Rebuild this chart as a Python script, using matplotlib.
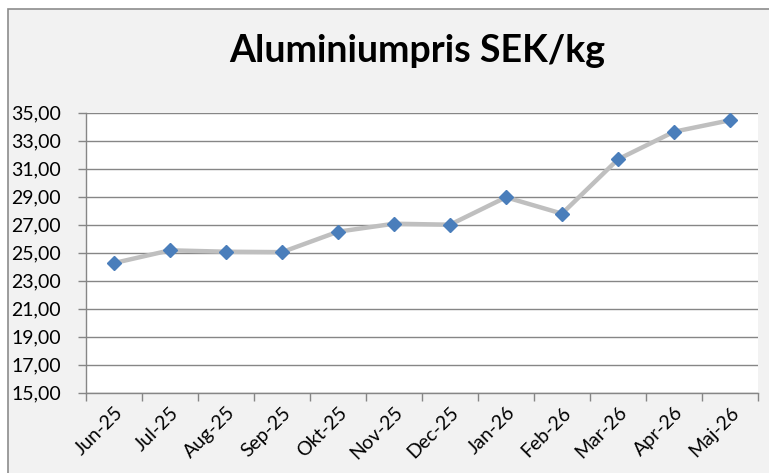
import matplotlib.pyplot as plt
from matplotlib.patches import Rectangle

months = ["Jun-25", "Jul-25", "Aug-25", "Sep-25", "Okt-25", "Nov-25",
          "Dec-25", "Jan-26", "Feb-26", "Mar-26", "Apr-26", "Maj-26"]
price = [24.26, 25.17, 25.07, 25.04, 26.50, 27.07,
         27.00, 28.96, 27.79, 31.67, 33.64, 34.46]
yticks = [15, 17, 19, 21, 23, 25, 27, 29, 31, 33, 35]

W, H = 769, 473
plt.rcParams["font.family"] = ["Lato", "DejaVu Sans"]

fig = plt.figure(figsize=(W / 100, H / 100), dpi=100)
fig.patch.set_facecolor("white")

# grey chart area with thin frame (cropped on right/bottom)
fig.patches.append(Rectangle((8 / W, -0.1), 1.2, 1.1 - 9 / H,
                             transform=fig.transFigure, facecolor="#F2F2F2",
                             edgecolor="#8C8C8C", linewidth=1.2, zorder=-5))

ax = fig.add_axes([86 / W, 1 - 392.7 / H, (758 - 86) / W, 280 / H])
ax.set_facecolor("white")

x = range(len(months))
ax.plot(x, price, color="#BFBFBF", linewidth=3.2, zorder=3)
ax.plot(x, price, linestyle="none", marker="D", markersize=7.5,
        color="#4A7EBB", zorder=4)

ax.set_xlim(-0.5, len(months) - 0.5)
ax.set_ylim(15, 35)
ax.set_yticks(yticks)
ax.set_yticklabels([f"{v:.2f}".replace(".", ",") for v in yticks])
ax.grid(axis="y", color="#868686", linewidth=1.0)
ax.set_axisbelow(True)

ax.set_xticks([i - 0.5 for i in range(len(months) + 1)], minor=False)
ax.set_xticklabels([])
ax.set_xticks(list(x), minor=True)
ax.set_xticklabels(months, minor=True, rotation=45, ha="right",
                   rotation_mode="anchor", fontsize=14)
ax.tick_params(axis="x", which="minor", length=0, pad=8)
ax.tick_params(axis="x", which="major", length=6, color="#868686", width=1)
ax.tick_params(axis="y", length=6, color="#868686", width=1,
               labelsize=14, pad=12)

for s in ["top", "right"]:
    ax.spines[s].set_visible(False)
for s in ["left", "bottom"]:
    ax.spines[s].set_color("#868686")
    ax.spines[s].set_linewidth(1.0)

fig.text(417 / W, 1 - 51 / H, "Aluminiumpris SEK/kg", ha="center",
         va="center", fontsize=27, fontweight="bold")

fig.savefig("out.png", dpi=100)
